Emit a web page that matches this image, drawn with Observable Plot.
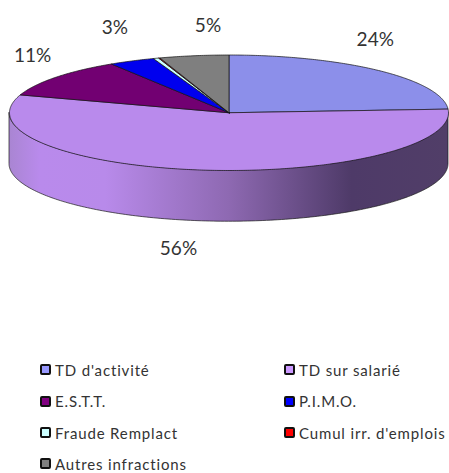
<!DOCTYPE html>
<html lang="fr">
<head>
<meta charset="utf-8">
<script src="https://cdn.jsdelivr.net/npm/d3@7"></script>
<script src="https://cdn.jsdelivr.net/npm/@observablehq/plot@0.6"></script>
<style>
html,body{margin:0;padding:0;background:#fff;overflow:hidden}
#page{width:449px;height:473px;position:relative;overflow:hidden;font-family:Lato,sans-serif;color:#333}
#chart svg{display:block;font-family:Lato,sans-serif}
#legend{position:absolute;left:40px;top:354.35px;width:409px;display:grid;grid-template-columns:244px 165px;grid-auto-rows:31.3px;font-size:15px;line-height:18px;letter-spacing:.85px}
.item{display:flex;align-items:center;gap:4px;white-space:nowrap}
.sw{width:7px;height:7px;border:2px solid #111;border-radius:2px;flex:none}
</style>
</head>
<body>
<div id="page"><div id="chart"></div><div id="legend"></div></div>
<script>
const categories = ["TD d'activité","TD sur salarié","E.S.T.T.","P.I.M.O.","Fraude Remplact","Cumul irr. d'emplois","Autres infractions"];
const values = [24, 56, 11, 3.4, 0.4, 0.1, 5.1];
const colors = ["#8c8fea","#b98aec","#720072","#0000ee","#ccffff","#ff0000","#7f7f7f"];
const swatchColors = ["#9999ff","#cc99ff","#800080","#0000ff","#ccffff","#ff0000","#808080"];
const valueLabels = ["24%","56%","11%","3%",null,null,"5%"];
// pixel nudges of each percentage from its point on the rim
const labelNudges = [[-4,-31],[-23,79],[-23,-21],[-17,-33],null,null,[14,-30]];
const depth = 0.887; // thickness of the disc, in units of the vertical radius

const total = d3.sum(values);
const turn = v => v / total * 2 * Math.PI;
let acc = 0;
const slices = values.map((v, i) => {
  const a0 = acc; acc += turn(v);
  return {name: categories[i], a0, a1: acc, color: colors[i], label: valueLabels[i], nudge: labelNudges[i]};
});
const rim = a => ({x: Math.sin(a), y: Math.cos(a)});

function slicePoints(s) {
  const n = Math.max(2, Math.ceil((s.a1 - s.a0) / 0.01));
  const arc = d3.range(n + 1).map(k => rim(s.a0 + (s.a1 - s.a0) * k / n));
  return [{x: 0, y: 0}, ...arc, {x: 0, y: 0}];
}
const wallPoints = d3.range(0, 181).map(k => {
  const p = rim(Math.PI / 2 + Math.PI * k / 180);
  return {x: p.x, y1: p.y, y2: p.y - depth};
});

const gradient = () => {
  const defs = d3.create("svg:defs");
  const g = defs.append("linearGradient").attr("id", "wall");
  [[0,"#a985d2"],[0.07,"#b98aec"],[0.22,"#b88aea"],[0.5,"#8e69b2"],[0.78,"#4e3a68"],[1,"#513e68"]]
    .forEach(([o,c]) => g.append("stop").attr("offset", o).attr("stop-color", c));
  return defs.node();
};

const marks = [
  gradient,
  Plot.areaY(wallPoints, {x: "x", y1: "y1", y2: "y2", fill: "url(#wall)", stroke: "#1a1a1a", strokeWidth: 0.7})
];
slices.forEach(s => marks.push(Plot.line(slicePoints(s), {x: "x", y: "y", fill: s.color, stroke: "#111", strokeWidth: 0.7})));
slices.filter(s => s.label).forEach(s => {
  const p = rim((s.a0 + s.a1) / 2);
  marks.push(Plot.text([{x: p.x, y: p.y, t: s.label}], {
    x: "x", y: "y", text: "t", dx: s.nudge[0], dy: s.nudge[1], fontSize: 19, fill: "#333"
  }));
});

document.getElementById("chart").append(Plot.plot({
  width: 449, height: 350, margin: 0,
  x: {domain: [-1, 1], range: [9, 448], axis: null},
  y: {domain: [1, -1], range: [54.5, 170], axis: null},
  marks
}));

const legend = d3.select("#legend");
categories.forEach((c, i) => {
  const it = legend.append("div").attr("class", "item");
  it.append("span").attr("class", "sw").style("background", swatchColors[i]);
  it.append("span").text(c);
});
</script>
</body>
</html>
